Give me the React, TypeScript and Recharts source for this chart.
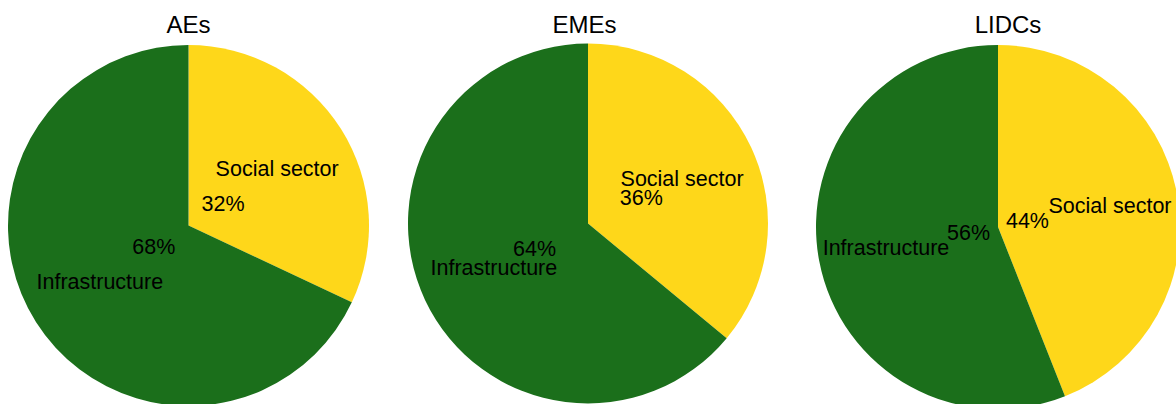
import { PieChart, Pie, Cell } from "recharts";

const categories = ["Social sector", "Infrastructure"];
const panelTitles = ["AEs", "EMEs", "LIDCs"];
const aesShares = [32, 68];
const emesShares = [36, 64];
const lidcsShares = [44, 56];

const colors = ["#fed71a", "#1b6f1b"];
const font = "'Liberation Sans', Arial, sans-serif";

// per-panel placement (centre, radius, label radii)
const layout = [
  { cx: 188.5, cy: 225.5, r: 180.5, titleX: 188.5, nameR: 105, pctR: 41 },
  { cx: 588, cy: 223.5, r: 180, titleX: 584.5, nameR: 104, pctR: 59 },
  { cx: 998, cy: 227, r: 182, titleX: 1008, nameR: 114, pctR: 30 },
];

const RAD = Math.PI / 180;

const makeLabel = (nameR: number, pctR: number) => (props: any) => {
  const { cx, cy, midAngle, name, value } = props;
  const cos = Math.cos(-midAngle * RAD);
  const sin = Math.sin(-midAngle * RAD);
  return (
    <g>
      <text
        x={cx + nameR * cos}
        y={cy + nameR * sin}
        textAnchor="middle"
        dominantBaseline="central"
        fill="#000"
        fontSize={21.5}
        fontFamily={font}
      >
        {name}
      </text>
      <text
        x={cx + pctR * cos}
        y={cy + pctR * sin}
        textAnchor="middle"
        dominantBaseline="central"
        fill="#000"
        fontSize={21.5}
        fontFamily={font}
      >
        {value}%
      </text>
    </g>
  );
};

export default function App() {
  const series = [aesShares, emesShares, lidcsShares];
  return (
    <div style={{ position: "absolute", left: 0, top: 0, width: 1176, height: 404, background: "#fff", overflow: "hidden" }}>
      <PieChart width={1176} height={404} margin={{ top: 0, right: 0, bottom: 0, left: 0 }}>
        {series.map((shares, i) => {
          const L = layout[i];
          const data = categories.map((name, j) => ({ name, value: shares[j] }));
          return (
            <Pie
              key={panelTitles[i]}
              data={data}
              dataKey="value"
              nameKey="name"
              cx={L.cx}
              cy={L.cy}
              outerRadius={L.r}
              innerRadius={0}
              startAngle={90}
              endAngle={-270}
              stroke="none"
              labelLine={false}
              label={makeLabel(L.nameR, L.pctR)}
              isAnimationActive={false}
            >
              {data.map((d, j) => (
                <Cell key={d.name} fill={colors[j]} />
              ))}
            </Pie>
          );
        })}
      </PieChart>
      {panelTitles.map((t, i) => (
        <div
          key={t}
          style={{
            position: "absolute",
            left: layout[i].titleX - 60,
            width: 120,
            top: 9,
            textAlign: "center",
            fontFamily: font,
            fontSize: 24,
            lineHeight: "32px",
            color: "#000",
          }}
        >
          {t}
        </div>
      ))}
    </div>
  );
}
